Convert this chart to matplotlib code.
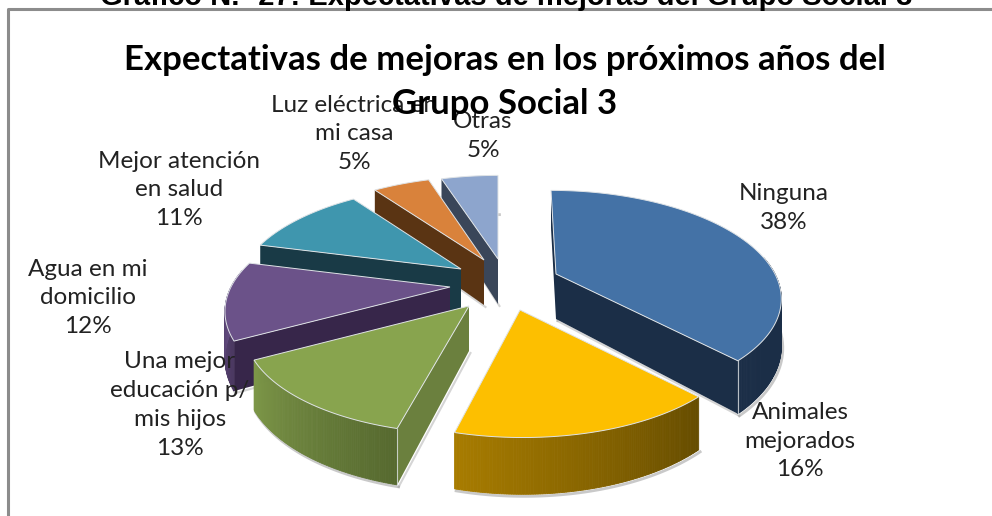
import numpy as np
import matplotlib
matplotlib.use('Agg')
import matplotlib.pyplot as plt
from matplotlib.colors import to_rgb

# Datos (sentido horario desde las 12)
categorias = ['Ninguna', 'Animales\nmejorados', 'Una mejor\neducación p/\nmis hijos', 'Agua en mi\ndomicilio',
              'Mejor atención\nen salud', 'Luz eléctrica en\nmi casa', 'Otras']
valores = [38, 16, 13, 12, 11, 5, 5]

titulo = 'Expectativas de mejoras en los próximos años del\nGrupo Social 3'
encabezado = 'Gráfico N.º 27: Expectativas de mejoras del Grupo Social 3'

# Estilo por porcion
colores_top = ['#4472a6', '#fdbf00', '#88a44e', '#6b5289', '#3f96ae', '#d9823b', '#8da5cd']
colores_cara = ['#1b2e47', '#654c00', '#6b803e', '#37264a', '#193a46', '#5a3413', '#3a4659']
arco_izq = ['#1b2e47', '#a87c00', '#7d9748', '#6f5590', '#193a46', '#5a3413', '#3a4659']
arco_der = ['#1b2e47', '#654c00', '#56692f', '#4a3860', '#193a46', '#5a3413', '#3a4659']

# Vertice de cada porcion en pixeles (explosion) y posicion de etiquetas
vertices = [(556, 274), (520, 310), (469, 306), (450, 287), (461, 269), (484, 260), (498, 259)]
pos_etiquetas = [(784, 208), (800, 441), (180, 405), (88, 298), (179, 190), (354, 134), (483, 136)]
orden = [6, 5, 4, 3, 0, 2, 1]

RX, RY, K, DEPTH = 219, 101, 0.208, 45
X0, LEAN = 498, 0.5


def punto(i, ang, z=0):
    ax0, ay0 = vertices[i]
    t = np.radians(ang)
    p = 1 / (1 + K * np.cos(t))
    x = ax0 + RX * np.sin(t) * p + (ax0 - X0) * (p - 1) * LEAN
    y = ay0 - RY * np.cos(t) * p + z * DEPTH * p
    return x, y


def mezcla(c1, c2, f):
    a, b = np.array(to_rgb(c1)), np.array(to_rgb(c2))
    return tuple(a + (b - a) * f)


fig = plt.figure(figsize=(9.92, 5.16), dpi=100)
ax = fig.add_axes([0, 0, 1, 1])
ax.set_xlim(0, 992)
ax.set_ylim(516, 0)
ax.axis('off')

# Marco del grafico
ax.plot([8, 8, 992], [516, 9, 9], color='#8c8c8c', lw=2.2, solid_capstyle='butt', zorder=1)
ax.text(506, 5, encabezado, ha='center', va='baseline', fontsize=21, fontweight='bold',
        family='Liberation Sans', color='black', zorder=1)

limites = np.cumsum([0] + valores) / sum(valores) * 360
LUZ = '#dfe3e6'

for n, i in enumerate(orden):
    a0, a1 = limites[i], limites[i + 1]
    zb = 10 + n * 2
    angs = np.linspace(a0, a1, int(a1 - a0) * 2 + 2)
    ap = vertices[i]
    ap_z = (ap[0], ap[1] + DEPTH)
    borde = [punto(i, a) for a in angs]
    borde_z = [punto(i, a, 1) for a in angs]

    # sombra bajo la cara exterior
    ax.plot([q[0] + 1.5 for q in borde_z], [q[1] + 2 for q in borde_z], color='#888888', lw=2, alpha=0.45, zorder=zb)

    # caras radiales visibles
    if a0 % 360 >= 180 or a0 == 0:
        q0, qz = punto(i, a0), punto(i, a0, 1)
        ax.fill([ap[0], q0[0], qz[0], ap_z[0]], [ap[1], q0[1], qz[1], ap_z[1]], color=colores_cara[i], lw=0, zorder=zb)
        ax.plot([ap_z[0] + 1.5, qz[0] + 1.5], [ap_z[1] + 2, qz[1] + 2], color='#888888', lw=1.5, alpha=0.35, zorder=zb - 1)
    if 0 < a1 < 180:
        q1, qz = punto(i, a1), punto(i, a1, 1)
        ax.fill([ap[0], q1[0], qz[0], ap_z[0]], [ap[1], q1[1], qz[1], ap_z[1]], color=colores_cara[i], lw=0, zorder=zb)
        ax.plot([ap_z[0] + 1.5, qz[0] + 1.5], [ap_z[1] + 2, qz[1] + 2], color='#888888', lw=1.5, alpha=0.35, zorder=zb - 1)

    # cara exterior con degradado (solo la mitad delantera)
    for k in range(len(angs) - 1):
        m = (angs[k] + angs[k + 1]) / 2
        if not 80 < m < 280:
            continue
        pa, pb, pc, pd = borde[k], borde[k + 1], borde_z[k + 1], borde_z[k]
        f = (a1 - m) / (a1 - a0)
        c = mezcla(arco_izq[i], arco_der[i], f)
        ax.fill([pa[0], pb[0], pc[0], pd[0]], [pa[1], pb[1], pc[1], pd[1]], fc=c, ec=c, lw=0.6, zorder=zb + 0.2)

    # arista vertical de la esquina
    if a1 < 180:
        q1, qz = punto(i, a1), punto(i, a1, 1)
        ax.plot([q1[0], qz[0]], [q1[1], qz[1]], color=LUZ, lw=0.8, alpha=0.8, zorder=zb + 0.3)
    elif a0 % 360 >= 180 and a0 < 200:
        q0, qz = punto(i, a0), punto(i, a0, 1)
        ax.plot([q0[0], qz[0]], [q0[1], qz[1]], color=LUZ, lw=0.8, alpha=0.8, zorder=zb + 0.3)

    # cara superior
    xs = [ap[0]] + [q[0] for q in borde]
    ys = [ap[1]] + [q[1] for q in borde]
    ax.fill(xs, ys, fc=colores_top[i], ec=LUZ, lw=0.7, joinstyle='miter', zorder=zb + 0.5)

# Etiquetas
for i, cat in enumerate(categorias):
    texto = f'{cat}\n{valores[i]}%'
    x, y = pos_etiquetas[i]
    ax.text(x, y, texto, ha='center', va='center', fontsize=17.5, family='Lato', color='#222222',
            linespacing=1.47, zorder=40)

ax.text(505, 82, titulo, ha='center', va='center', fontsize=25, fontweight='bold', family='Lato',
        color='black', linespacing=1.45, zorder=50)

fig.savefig('out.png', dpi=100)
